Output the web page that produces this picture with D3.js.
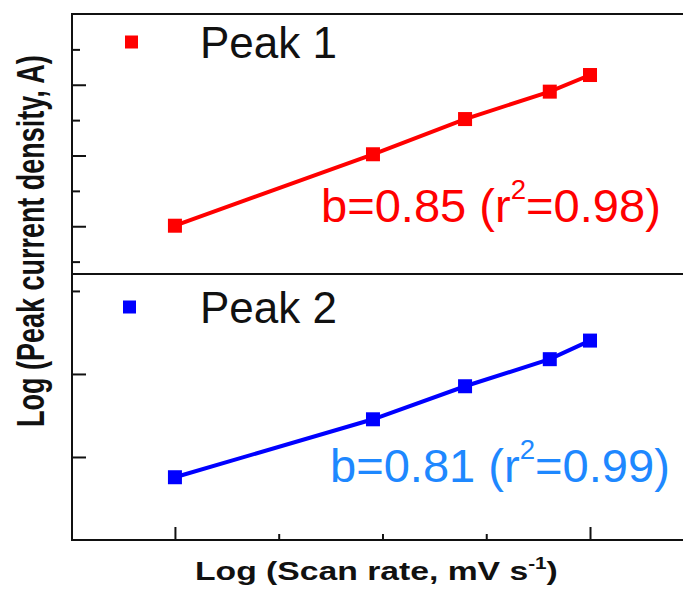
<!DOCTYPE html>
<html lang="en">
<head>
    <meta charset="UTF-8">
    <title>Peak current vs scan rate</title>
    <script src="https://cdn.jsdelivr.net/npm/d3@7"></script>
    <style>
        body { margin: 0; background: #fff; }
        svg text { font-family: Arial, "Liberation Sans", sans-serif; }
    </style>
</head>
<body>
    <svg id="chart" width="683" height="590"></svg>

    <script>
        // scan rates (mV/s) -> log
        let scanRates = [10, 30, 50, 80, 100];
        let logRate = scanRates.map(d => Math.log10(d));
        // log(peak current density)
        let peak1 = [-1.197, -0.793, -0.594, -0.439, -0.345];
        let peak2 = [-1.122, -0.773, -0.574, -0.411, -0.299];

        let xMajor = [1, 2], xMinor = [1.25, 1.5, 1.75];
        let y1Major = [-1.2, -0.8, -0.4], y1Minor = [-1.4, -1.0, -0.6, -0.2];
        let y2Major = [-1.0, -0.5], y2Minor = [0.0];

        let svg = d3.select("#chart");
        const mLeft = 72, mRight = 700, mTop = 14, mMid = 274, mBottom = 540;

        let x = d3.scaleLinear().domain([0.752, 2.265]).range([mLeft, mRight]);
        let y1 = d3.scaleLinear().domain([-1.47, 0]).range([mMid, mTop]);
        let y2 = d3.scaleLinear().domain([-1.5, 0.102]).range([mBottom, mMid]);

        // ticks (inward)
        function ticks(axis, vals, size, tx) {
            let g = svg.append("g").attr("transform", tx)
                .call(axis.tickValues(vals).tickSize(size).tickFormat(""));
            g.select(".domain").remove();
            g.selectAll("line").attr("stroke", "#111").attr("stroke-width", 2);
        }
        ticks(d3.axisLeft(y1), y1Major, -14, `translate(${mLeft},0)`);
        ticks(d3.axisLeft(y1), y1Minor, -8, `translate(${mLeft},0)`);
        ticks(d3.axisLeft(y2), y2Major, -14, `translate(${mLeft},0)`);
        ticks(d3.axisLeft(y2), y2Minor, -8, `translate(${mLeft},0)`);
        ticks(d3.axisBottom(x), xMajor, -13, `translate(0,${mBottom})`);
        ticks(d3.axisBottom(x), xMinor, -6, `translate(0,${mBottom})`);

        // frame + divider
        svg.append("rect")
            .attr("x", mLeft).attr("y", mTop)
            .attr("width", mRight - mLeft).attr("height", mBottom - mTop)
            .attr("fill", "none").attr("stroke", "#111").attr("stroke-width", 2);
        svg.append("line")
            .attr("x1", mLeft).attr("x2", mRight).attr("y1", mMid).attr("y2", mMid)
            .attr("stroke", "#111").attr("stroke-width", 2);

        function series(vals, y, color) {
            let pts = logRate.map((d, i) => [x(d), y(vals[i])]);
            svg.append("path")
                .attr("d", d3.line()(pts))
                .attr("fill", "none").attr("stroke", color).attr("stroke-width", 4);
            svg.selectAll(null).data(pts).enter().append("rect")
                .attr("x", d => d[0] - 7).attr("y", d => d[1] - 7)
                .attr("width", 14).attr("height", 14)
                .attr("fill", color);
        }
        series(peak1, y1, "#ff0000");
        series(peak2, y2, "#0000ff");

        // fit a text to a target width by horizontal scaling
        function stretch(t, w) {
            let bw = t.node().getBBox().width;
            return w / bw;
        }

        // legends
        function legend(lx, ly, color, label) {
            svg.append("rect").attr("x", lx - 7).attr("y", ly - 21)
                .attr("width", 13).attr("height", 13).attr("fill", color);
            svg.append("text").attr("x", 200).attr("y", ly + 1)
                .attr("font-size", 44).attr("fill", "#111").text(label);
        }
        legend(132, 56.5, "#ff0000", "Peak 1");
        legend(130, 321.5, "#0000ff", "Peak 2");

        // fit annotations
        function note(tx, ty, color, b, r) {
            let t = svg.append("text").attr("font-size", 46).attr("fill", color);
            t.append("tspan").text(`b=${b} (r`);
            t.append("tspan").attr("font-size", 27).attr("dy", -23).text("2");
            t.append("tspan").attr("dy", 23).text(`=${r})`);
            let s = stretch(t, 340);
            t.attr("transform", `translate(${tx},${ty}) scale(${s},1)`);
        }
        note(321, 221.5, "#ff0000", "0.85", "0.98");
        note(330, 481.5, "#1e88ff", "0.81", "0.99");

        // x label
        let xl = svg.append("text").attr("font-size", 26).attr("font-weight", "bold").attr("fill", "#111");
        xl.append("tspan").text("Log (Scan rate, mV s");
        xl.append("tspan").attr("font-size", 16).attr("dy", -11).text("-1");
        xl.append("tspan").attr("dy", 11).text(")");
        let sx = stretch(xl, 363);
        xl.attr("transform", `translate(195,580) scale(${sx},1)`);

        // y label
        let yl = svg.append("text").attr("font-size", 38).attr("font-weight", "bold").attr("fill", "#111")
            .text("Log (Peak current density, A)");
        let sy = stretch(yl, 372);
        yl.attr("transform", `translate(44,427) rotate(-90) scale(${sy},1)`);
    </script>
</body>
</html>
